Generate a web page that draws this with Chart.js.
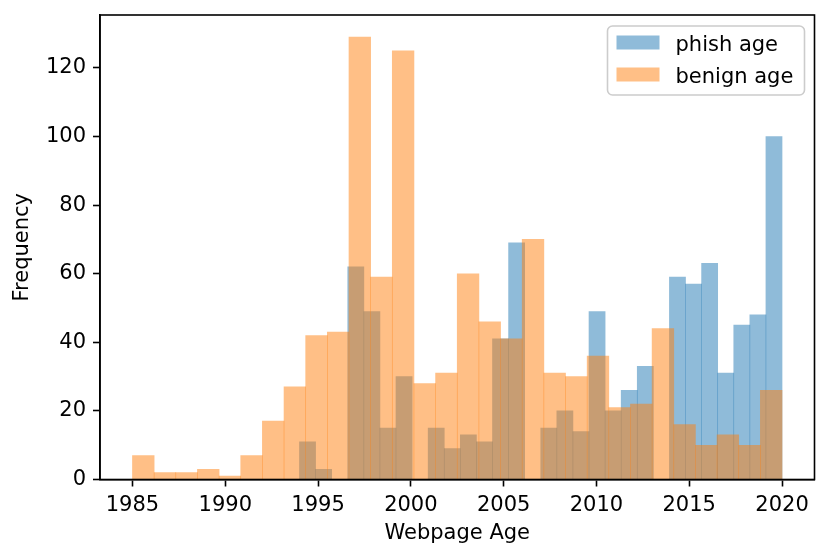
<!DOCTYPE html>
<html>
<head>
<meta charset="utf-8">
<title>Webpage Age</title>
<script src="https://cdn.jsdelivr.net/npm/chart.js@4.4.1/dist/chart.umd.min.js"></script>
<style>
  body { margin: 0; background: #fff; }
</style>
</head>
<body>
<canvas id="myChart" width="830" height="560"></canvas>
<script>
'use strict';
// Histogram counts, 30 bins per series
let phishCounts = [11, 3, 0, 62, 49, 15, 30, 0, 15, 9, 13, 11, 41, 69, 0,
  15, 20, 14, 49, 20, 26, 33, 0, 59, 57, 63, 31, 45, 48, 100];
let benignCounts = [7, 2, 2, 3, 1, 7, 17, 27, 42, 43, 129, 59, 125, 28, 31,
  60, 46, 41, 70, 31, 30, 36, 21, 22, 44, 16, 10, 13, 10, 26];
// bin ranges (first edge, last edge)
let phishRange = [1994, 2020];
let benignRange = [1985, 2020];
let xTickLabels = [1985, 1990, 1995, 2000, 2005, 2010, 2015, 2020];
let yTickLabels = [0, 20, 40, 60, 80, 100, 120];
let seriesNames = ['phish age', 'benign age'];
// End of data

let fontFamily = "'DejaVu Sans', sans-serif";
let fontSize = 21;
let blue = 'rgba(31, 119, 180, 0.5)';
let orange = 'rgba(255, 127, 14, 0.5)';

// turns counts into {x, y} points at the bin centres
function binPoints(counts, range) {
  let width = (range[1] - range[0]) / counts.length;
  return counts.map((c, i) => ({ x: range[0] + (i + 0.5) * width, y: c }));
}

let xMin = benignRange[0] - (benignRange[1] - benignRange[0]) * 0.05;
let xMax = benignRange[1] + (benignRange[1] - benignRange[0]) * 0.05;
let yMax = Math.max(...phishCounts, ...benignCounts) * 1.05;

// frame round the plot area (matplotlib spines)
let framePlugin = {
  id: 'frame',
  afterDraw(chart) {
    let a = chart.chartArea;
    let ctx = chart.ctx;
    ctx.save();
    ctx.strokeStyle = '#000';
    ctx.lineWidth = 1.6;
    ctx.strokeRect(a.left, a.top, a.right - a.left, a.bottom - a.top);
    ctx.restore();
  }
};

// legend box in the upper right corner
let boxLegendPlugin = {
  id: 'boxLegend',
  afterDraw(chart) {
    let a = chart.chartArea;
    let ctx = chart.ctx;
    let right = a.right - 10;
    let left = right - 197;
    let top = a.top + 11;
    let bottom = top + 69;
    ctx.save();
    ctx.beginPath();
    ctx.roundRect(left, top, right - left, bottom - top, 5);
    ctx.fillStyle = 'rgba(255, 255, 255, 0.8)';
    ctx.fill();
    ctx.strokeStyle = '#cccccc';
    ctx.lineWidth = 1.6;
    ctx.stroke();
    ctx.font = fontSize + 'px ' + fontFamily;
    ctx.textBaseline = 'alphabetic';
    ctx.textAlign = 'left';
    chart.data.datasets.forEach((ds, i) => {
      let cy = top + 16.5 + i * 32;
      ctx.fillStyle = ds.backgroundColor;
      ctx.fillRect(left + 9, cy - 7, 43, 14);
      ctx.fillStyle = '#000';
      ctx.fillText(ds.label, left + 68, cy + 8.5);
    });
    ctx.restore();
  }
};

let axisFont = { family: fontFamily, size: fontSize };

let chartObject = {
  type: 'bar',
  data: {
    datasets: [{
      label: seriesNames[0],
      data: binPoints(phishCounts, phishRange),
      xAxisID: 'x2',
      backgroundColor: blue,
      borderWidth: 0,
      barPercentage: 1,
      categoryPercentage: 1,
      grouped: false,
      order: 1
    },
    {
      label: seriesNames[1],
      data: binPoints(benignCounts, benignRange),
      xAxisID: 'x',
      backgroundColor: orange,
      borderWidth: 0,
      barPercentage: 1,
      categoryPercentage: 1,
      grouped: false,
      order: 0
    }]
  },
  options: {
    responsive: false,
    animation: false,
    layout: { padding: { top: 15, right: 15.5, left: 0, bottom: 0 } },
    plugins: {
      legend: { display: false },
      tooltip: { enabled: false }
    },
    scales: {
      x: {
        type: 'linear',
        position: 'bottom',
        min: xMin,
        max: xMax,
        offset: false,
        grid: { offset: false, drawOnChartArea: false, drawTicks: true, tickLength: 7, tickWidth: 1.6, color: '#000' },
        border: { display: true, color: '#000', width: 1.6 },
        ticks: { font: axisFont, color: '#000', padding: 6, maxRotation: 0, autoSkip: false, callback: v => String(v) },
        title: { display: true, text: 'Webpage Age', font: axisFont, color: '#000', padding: { top: 0, bottom: 13.5 } },
        afterBuildTicks(scale) { scale.ticks = xTickLabels.map(v => ({ value: v })); },
        afterFit(scale) {
          scale.height = 80.5;
          scale.paddingLeft = 0;
          scale.paddingRight = 0;
        }
      },
      x2: {
        type: 'linear',
        display: false,
        min: xMin,
        max: xMax,
        offset: false
      },
      y: {
        min: 0,
        max: yMax,
        grid: { drawOnChartArea: false, drawTicks: true, tickLength: 7, tickWidth: 1.6, color: '#000' },
        border: { display: true, color: '#000', width: 1.6 },
        ticks: { font: axisFont, color: '#000', padding: 7, callback: v => String(v) },
        title: { display: true, text: 'Frequency', font: axisFont, color: '#000', padding: { top: 10, bottom: 0 } },
        afterBuildTicks(scale) { scale.ticks = yTickLabels.map(v => ({ value: v })); },
        afterFit(scale) {
          scale.width = 100;
          scale.paddingTop = 0;
          scale.paddingBottom = 0;
        }
      }
    }
  },
  plugins: [framePlugin, boxLegendPlugin]
};

let ctx = document.getElementById('myChart').getContext('2d');
let myChart = new Chart(ctx, chartObject);
</script>
</body>
</html>
